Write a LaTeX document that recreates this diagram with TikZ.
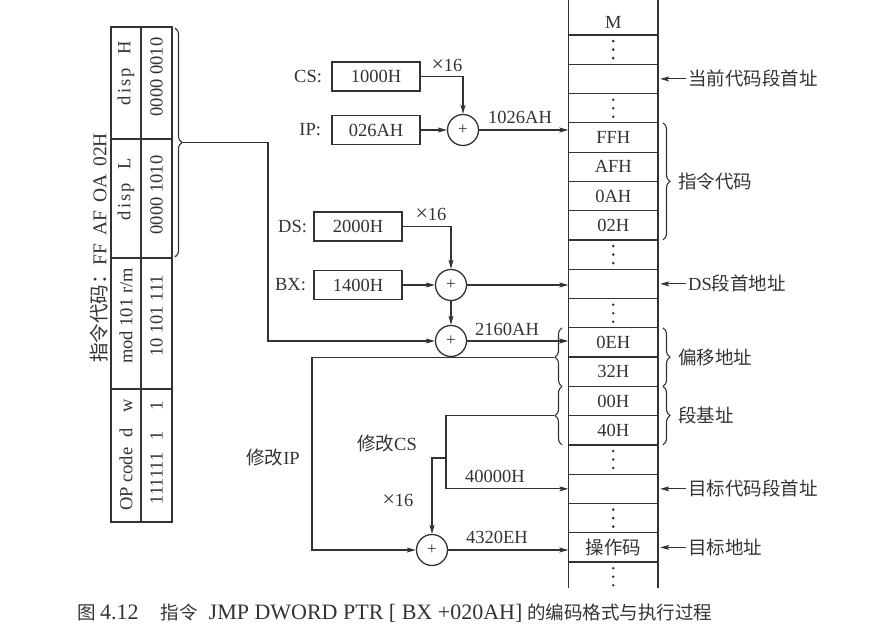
\documentclass[tikz,border=0pt]{standalone}
\usepackage{fontspec}
\setmainfont{Liberation Serif}
\newfontfamily\cjk{Noto Sans CJK SC}
\usetikzlibrary{arrows.meta,decorations.pathreplacing,calc}
\definecolor{ink}{gray}{0.2}
\newcommand{\tms}{{\fontsize{22}{22}\selectfont ×}16}
\newcommand{\capl}{\fontsize{22}{22}\selectfont}
\begin{document}
\begin{tikzpicture}[x=1pt,y=-1pt,
  every node/.style={text=ink, font=\fontsize{18.5}{20}\selectfont},
  line/.style={draw=ink, line width=1.1pt},
  arr/.style={line, -{Stealth[length=9pt,width=5pt,inset=2pt]}},
  regbox/.style={draw=ink, line width=1.7pt, minimum width=88pt, minimum height=29pt, inner sep=0pt},
  adder/.style={circle, draw=ink, line width=1.3pt, minimum size=31pt, inner sep=0pt, font=\fontsize{17}{17}\selectfont},
  cell/.style={minimum width=89.5pt, minimum height=29.28pt, inner sep=0pt},
  brc/.style={line, decorate, decoration={brace, amplitude=7pt}},
  lab/.style={inner sep=2pt},
  rot/.style={rotate=90, inner sep=0pt}
]
\useasboundingbox (0,0) rectangle (888,639);

% ---------- memory column ----------
\draw[line, line width=1.2pt] (568.5,0) -- (568.5,588) (658,0) -- (658,588);
\foreach \k in {0,...,18} \draw[line, line width=1.2pt] (568.5,{35+29.28*\k}) -- (658,{35+29.28*\k});
\node (mtop) at (613.25,22) {M};
\foreach \r/\t in {0/,1/,2/,3/FFH,4/AFH,5/0AH,6/02H,7/,8/,9/,10/0EH,11/32H,12/00H,13/40H,14/,15/,16/,17/{\cjk 操作码},18/}
  \node[cell] (c\r) at (613.25,{35+29.28*(\r+0.5)}) {\t};
\foreach \r in {0,2,7,9,14,16,18}
  \foreach \d in {-8.5,0,8.5}
    \fill[ink] ($(c\r)+(0,\d)$) circle (1.4pt);

% right labels
\node[lab, anchor=west] (l1) at (686,{35+29.28*1.5}) {\cjk 当前代码段首址};
\node[lab, anchor=west] (l2) at (686,{35+29.28*8.5}) {DS{\cjk 段首地址}};
\node[lab, anchor=west] (l3) at (686,{35+29.28*15.5}) {\cjk 目标代码段首址};
\node[lab, anchor=west] (l4) at (686,{35+29.28*17.5}) {\cjk 目标地址};
\foreach \i/\c in {1/1,2/8,3/15,4/17}
  \draw[arr, shorten >=2pt] (l\i.west) -- (l\i.west -| c\c.east);

% right braces
\draw[brc] (663,{35+29.28*3}) -- (663,{35+29.28*7});
\draw[brc] (663,{35+29.28*10}) -- (663,{35+29.28*12});
\draw[brc] (663,{35+29.28*12}) -- (663,{35+29.28*14});
\node[lab, anchor=west] (bl1) at (676,{35+29.28*5}) {\cjk 指令代码};
\node[lab, anchor=west] (bl2) at (676,{35+29.28*11}) {\cjk 偏移地址};
\node[lab, anchor=west] (bl3) at (676,{35+29.28*13}) {\cjk 段基址};

% left braces on memory
\draw[brc] (562,{35+29.28*12}) -- (562,{35+29.28*10});
\draw[brc] (562,{35+29.28*14}) -- (562,{35+29.28*12});
\coordinate (bA) at (554,{35+29.28*11});
\coordinate (bB) at (554,{35+29.28*13});

% ---------- registers and adders ----------
\node[regbox] (cs) at (376,76.5) {1000H};
\node[regbox] (ip) at (376,130) {026AH};
\node[regbox] (ds) at (358,226.5) {2000H};
\node[regbox] (bx) at (358,285) {1400H};
\node[anchor=east, inner sep=0pt] (csl) at ($(cs.west)+(-9,0)$) {CS:};
\node[anchor=east, inner sep=0pt] (ipl) at ($(ip.west)+(-10,0)$) {IP:};
\node[anchor=east, inner sep=0pt] (dsl) at ($(ds.west)+(-6,0)$) {DS:};
\node[anchor=east, inner sep=0pt] (bxl) at ($(bx.west)+(-7,0)$) {BX:};

\node[adder] (a1) at (463,130) {+};
\node[adder] (a2) at (451,285) {+};
\node[adder] (a3) at (451,341) {+};
\node[adder] (a4) at (432,550) {+};

\node (m1) at (447,65) {\tms};
\node (m2) at (431,214) {\tms};
\node (m3) at (398,500) {\tms};
\node (o1) at (520,117) {1026AH};
\node (o2) at (507,329) {2160AH};
\node (o3) at (495,476) {40000H};
\node (o4) at (497,537) {4320EH};
\node (mcs) at (387,443) {{\cjk 修改}CS};
\node (mip) at (273,457) {{\cjk 修改}IP};

\coordinate (j1) at (268,0);
\coordinate (j2) at (312,0);
\coordinate (j3) at (446,0);
\coordinate (br) at (446,458);

\draw[arr] (cs.east) -| (a1.north);
\draw[arr] (ip.east) -- (a1.west);
\draw[arr] (a1.east) -- (a1 -| c3.west);
\draw[arr] (ds.east) -| (a2.north);
\draw[arr] (bx.east) -- (a2.west);
\draw[arr] (a2.east) -- (a2 -| c8.west);
\draw[arr] (a2.south) -- (a3.north);
\draw[arr] (a3.east) -- (a3 -| c10.west);
\draw[arr] (bA) -- (bA -| j2) |- (a4.west);
\draw[arr] (bB) -- (bB -| j3) |- (c15.west);
\draw[arr] (br) -| (a4.north);
\draw[arr] (a4.east) -- (a4 -| c17.west);

% ---------- instruction format table ----------
\draw[draw=ink, line width=1.6pt] (111,27) rectangle (172,522);
\draw[draw=ink, line width=1.3pt] (141,27) -- (141,522)
  (111,139) -- (172,139) (111,258) -- (172,258) (111,389) -- (172,389);
\node[rot] (t1) at (126,73) {d\hspace{2pt}i\hspace{2pt}s\hspace{2pt}p\hspace{14pt}H};
\node[rot] (t2) at (126,189) {d\hspace{2pt}i\hspace{2pt}s\hspace{2pt}p\hspace{14pt}L};
\node[rot] (t3) at (126,316) {mod 101 r/m};
\node[rot] (t4) at (126,455) {OP code\hspace{10pt}d\hspace{16pt}w};
\node[rot] (v1) at (156.5,77) {0000 0010};
\node[rot] (v2) at (156.5,195) {0000 1010};
\node[rot] (v3) at (156.5,316) {10 101 111};
\node[rot] (v4) at (156.5,453) {111111\hspace{12pt}1\hspace{20pt}1};
\node[rot, font=\fontsize{19.5}{20}\selectfont] (code) at (99,248) {{\cjk 指令代码：}FF\hspace{8pt}AF\hspace{8pt}OA\hspace{8pt}02H};

\draw[brc] (175,28) -- (175,257);
\coordinate (tb) at (183,142.5);
\draw[arr] (tb) -- (tb -| j1) |- (a3.west);

% ---------- caption ----------
\node[anchor=west, inner sep=0pt] (cap) at (77,613) {{\cjk 图}\hspace{4.5pt}{\capl 4.12}\hspace{22pt}{\cjk 指令}\hspace{11pt}{\capl JMP DWORD PTR [ BX +020AH]}\hspace{5pt}{\cjk 的编码格式与执行过程}};
\end{tikzpicture}
\end{document}
